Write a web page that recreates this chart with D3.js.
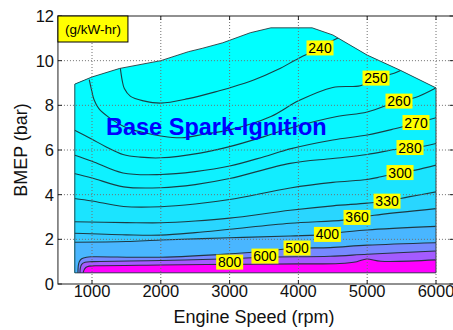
<!DOCTYPE html>
<html>
<head>
<meta charset="utf-8">
<script src="https://cdn.jsdelivr.net/npm/d3@7"></script>
<style>
  html, body { margin: 0; padding: 0; background: #fff; }
  svg { display: block; font-family: "Liberation Sans", Arial, Helvetica, sans-serif; }
</style>
</head>
<body>
<svg id="chart" width="453" height="330"></svg>
<script>
// ── Data ──────────────────────────────────────────────────────────────────────
const speedTicks = [1000, 2000, 3000, 4000, 5000, 6000];
const bmepTicks = [0, 2, 4, 6, 8, 10, 12];
const levels = [240, 250, 260, 270, 280, 300, 330, 360, 400, 500, 600, 800];

// upper edge of the mapped region (full load), bottom is a flat 0.5 bar
const edgeRpm  = [750, 1000, 1400, 2000, 2400, 2600, 2900, 3300, 3600, 4200, 4500, 4750, 5000, 5480, 6000];
const edgeBmep = [8.95, 9.27, 9.65, 10.0, 10.4, 10.55, 10.8, 11.25, 11.47, 11.47, 11.15, 10.7, 10.25, 9.57, 8.78];
const minBmep = 0.5;

// contour lines as [rpm, bmep]
const c240 = [[1410, 9.7], [1440, 9.1], [1470, 8.75], [1560, 8.4], [1750, 8.2], [2000, 8.1], [2400, 8.3],
  [2850, 8.65], [3000, 8.78], [3350, 9.13], [3700, 9.6], [4000, 10.1], [4300, 10.55], [4500, 10.9], [4600, 11.05]];
const c250 = [[960, 9.15], [1000, 8.6], [1030, 8.25], [1100, 7.85], [1250, 7.45], [1500, 7.0], [1750, 6.78],
  [2000, 6.63], [2300, 6.55], [2650, 6.72], [3000, 6.9], [3600, 7.5], [4000, 8.2], [4500, 8.8], [4900, 8.88],
  [5130, 9.2], [5400, 9.45], [5520, 9.62]];
const c260 = [[740, 6.9], [1000, 6.48], [1200, 6.15], [1450, 5.8], [1700, 5.68], [2000, 5.65], [2570, 5.86],
  [3000, 6.15], [3500, 6.6], [3880, 6.98], [4560, 7.5], [5000, 7.7], [5460, 8.19], [5700, 8.35], [6010, 8.8]];
const c270 = [[740, 5.78], [1000, 5.5], [1450, 4.97], [2000, 4.9], [2500, 5.03], [3000, 5.28], [3500, 5.7],
  [3880, 6.05], [4500, 6.45], [5000, 6.67], [5400, 6.95], [5710, 7.2], [6010, 7.45]];
const c280 = [[740, 4.95], [1000, 4.75], [1460, 4.35], [2000, 4.31], [2500, 4.45], [3000, 4.72], [3880, 5.4],
  [4500, 5.62], [5000, 5.8], [5400, 6.02], [5620, 6.11], [5840, 6.18], [6010, 6.3]];
const c300 = [[740, 3.83], [1000, 3.72], [1460, 3.47], [2000, 3.46], [2500, 3.58], [3000, 3.78], [3880, 4.3],
  [4500, 4.55], [5000, 4.68], [5200, 4.8], [5480, 4.99], [5700, 5.1], [6010, 5.33]];
const c330 = [[740, 2.79], [1500, 2.75], [2000, 2.74], [2500, 2.82], [3000, 2.95], [3880, 3.3], [4500, 3.5],
  [5000, 3.62], [5290, 3.72], [5600, 3.9], [6010, 4.13]];
const c360 = [[740, 2.27], [1500, 2.2], [2000, 2.19], [2500, 2.3], [3000, 2.45], [3880, 2.72], [4650, 2.86],
  [4850, 2.97], [5100, 3.08], [6010, 3.38]];
const c400 = [[740, 1.87], [1500, 1.9], [2000, 1.97], [3000, 2.07], [3880, 2.15], [4420, 2.22], [4630, 2.32],
  [5000, 2.42], [6010, 2.58]];
const c500 = [[795, 0.4], [800, 0.8], [815, 1.0], [850, 1.13], [920, 1.2], [1000, 1.22], [2000, 1.2],
  [3000, 1.35], [3500, 1.47], [3980, 1.6], [4460, 1.63], [5000, 1.74], [6010, 1.85]];
const c600 = [[825, 0.4], [830, 0.7], [850, 0.88], [900, 0.97], [1000, 1.0], [2000, 1.05], [3000, 1.13],
  [3514, 1.2], [4460, 1.24], [5000, 1.33], [6010, 1.48]];
const c800 = [[870, 0.4], [880, 0.6], [910, 0.74], [960, 0.8], [1100, 0.82], [2000, 0.85], [3000, 0.88],
  [4000, 0.9], [4600, 0.92], [4850, 1.0], [4990, 1.12], [5200, 1.02], [6010, 1.08]];

// where the inline level labels sit
const labelRpm  = [4314, 5128, 5462, 5709, 5622, 5477, 5288, 4852, 4422, 3980, 3514, 3001];
const labelBmep = [10.57, 9.22, 8.19, 7.23, 6.11, 4.99, 3.71, 2.98, 2.22, 1.61, 1.25, 0.98];

const contours = [c240, c250, c260, c270, c280, c300, c330, c360, c400, c500, c600, c800];

// ── Scales ────────────────────────────────────────────────────────────────────
const x = d3.scaleLinear().domain([1000, 6000]).range([92, 436]);
const y = d3.scaleLinear().domain([0, 12]).range([284, 16]);
const plotLeft = x(505), plotRight = x(6255);
const plotTop = y(12), plotBottom = y(0);

// MATLAB "cool" colormap, coloured by the lower level of each band
const cool = (v) => {
  const t = Math.max(0, Math.min(1, (v - levels[0]) / (levels[levels.length - 1] - levels[0])));
  return d3.rgb(255 * t, 255 * (1 - t), 255).formatHex();
};

const svg = d3.select("#chart");
const defs = svg.append("defs");

const straight = d3.line().x((d) => x(d[0])).y((d) => y(d[1]));
const smooth = d3.line().x((d) => x(d[0])).y((d) => y(d[1])).curve(d3.curveCatmullRom.alpha(0.5));

const edge = edgeRpm.map((r, i) => [r, edgeBmep[i]]);
const region = [...edge, [6000, minBmep], [750, minBmep]];

defs.append("clipPath").attr("id", "map")
  .append("path").attr("d", straight(region) + "Z");

// ── Filled bands ──────────────────────────────────────────────────────────────
const plot = svg.append("g").attr("clip-path", "url(#map)");

plot.append("rect")
  .attr("x", plotLeft).attr("y", plotTop)
  .attr("width", plotRight - plotLeft).attr("height", plotBottom - plotTop)
  .attr("fill", cool(levels[0]));

contours.forEach((pts, i) => {
  const first = pts[0], last = pts[pts.length - 1];
  const d = smooth(pts) +
    `L${x(7000)},${y(last[1])}L${x(7000)},${y(-1)}L${x(0)},${y(-1)}L${x(0)},${y(first[1])}Z`;
  plot.append("path").attr("d", d).attr("fill", cool(levels[i]));
});

plot.selectAll(".cline")
  .data(contours)
  .join("path")
  .attr("class", "cline")
  .attr("d", (d) => smooth(d))
  .attr("fill", "none")
  .attr("stroke", "#1c2a30")
  .attr("stroke-width", 1.1)
  .attr("stroke-opacity", 0.9);

svg.append("path")
  .attr("d", straight(region) + "Z")
  .attr("fill", "none")
  .attr("stroke", "#2a3a40")
  .attr("stroke-width", 0.9);

// ── Grid, box, ticks ──────────────────────────────────────────────────────────
const grid = svg.append("g")
  .attr("stroke", "#707070")
  .attr("stroke-width", 1)
  .attr("stroke-dasharray", "1,2");

grid.selectAll(".gx").data(speedTicks).join("line")
  .attr("x1", (d) => x(d)).attr("x2", (d) => x(d))
  .attr("y1", plotTop).attr("y2", plotBottom);

grid.selectAll(".gy").data(bmepTicks.filter((d) => d > 0 && d < 12)).join("line")
  .attr("x1", plotLeft).attr("x2", plotRight)
  .attr("y1", (d) => y(d)).attr("y2", (d) => y(d));

svg.append("rect")
  .attr("x", plotLeft).attr("y", plotTop)
  .attr("width", plotRight - plotLeft).attr("height", plotBottom - plotTop)
  .attr("fill", "none").attr("stroke", "#222").attr("stroke-width", 1);

const ticks = svg.append("g").attr("stroke", "#222").attr("stroke-width", 1);
speedTicks.forEach((t) => {
  ticks.append("line").attr("x1", x(t)).attr("x2", x(t)).attr("y1", plotBottom).attr("y2", plotBottom - 4);
  ticks.append("line").attr("x1", x(t)).attr("x2", x(t)).attr("y1", plotTop).attr("y2", plotTop + 4);
});
bmepTicks.forEach((t) => {
  ticks.append("line").attr("x1", plotLeft).attr("x2", plotLeft + 4).attr("y1", y(t)).attr("y2", y(t));
  ticks.append("line").attr("x1", plotRight).attr("x2", plotRight - 4).attr("y1", y(t)).attr("y2", y(t));
});

svg.append("g").selectAll("text").data(speedTicks).join("text")
  .attr("x", (d) => x(d)).attr("y", 297)
  .attr("text-anchor", "middle")
  .attr("font-size", "16.5px").attr("fill", "#111")
  .text((d) => d);

svg.append("g").selectAll("text").data(bmepTicks).join("text")
  .attr("x", 54).attr("y", (d) => y(d))
  .attr("dy", "0.36em")
  .attr("text-anchor", "end")
  .attr("font-size", "16.5px").attr("fill", "#111")
  .text((d) => d);

svg.append("text")
  .attr("x", 254).attr("y", 323)
  .attr("text-anchor", "middle")
  .attr("font-size", "18px").attr("fill", "#111")
  .text("Engine Speed (rpm)");

svg.append("text")
  .attr("transform", `translate(27,${(plotTop + plotBottom) / 2}) rotate(-90)`)
  .attr("text-anchor", "middle")
  .attr("font-size", "18px").attr("fill", "#111")
  .text("BMEP (bar)");

// ── Level labels ──────────────────────────────────────────────────────────────
const lab = svg.append("g").selectAll("g").data(levels).join("g")
  .attr("transform", (d, i) => `translate(${x(labelRpm[i])},${y(labelBmep[i])})`);

lab.append("rect")
  .attr("x", -13.5).attr("y", -7.5)
  .attr("width", 27).attr("height", 15)
  .attr("fill", "#ffff00");

lab.append("text")
  .attr("text-anchor", "middle")
  .attr("dy", "0.36em")
  .attr("font-size", "14px").attr("fill", "#000")
  .text((d) => d);

// units box and title
svg.append("rect")
  .attr("x", plotLeft).attr("y", plotTop)
  .attr("width", 70).attr("height", 26)
  .attr("fill", "#ffff00").attr("stroke", "#000").attr("stroke-width", 1);

svg.append("text")
  .attr("x", plotLeft + 35).attr("y", plotTop + 13)
  .attr("dy", "0.36em")
  .attr("text-anchor", "middle")
  .attr("font-size", "13.5px").attr("fill", "#000")
  .text("(g/kW-hr)");

svg.append("text")
  .attr("x", 106).attr("y", 135)
  .attr("font-size", "23.5px").attr("font-weight", "bold")
  .attr("fill", "#0000ff")
  .text("Base Spark-Ignition");
</script>
</body>
</html>
